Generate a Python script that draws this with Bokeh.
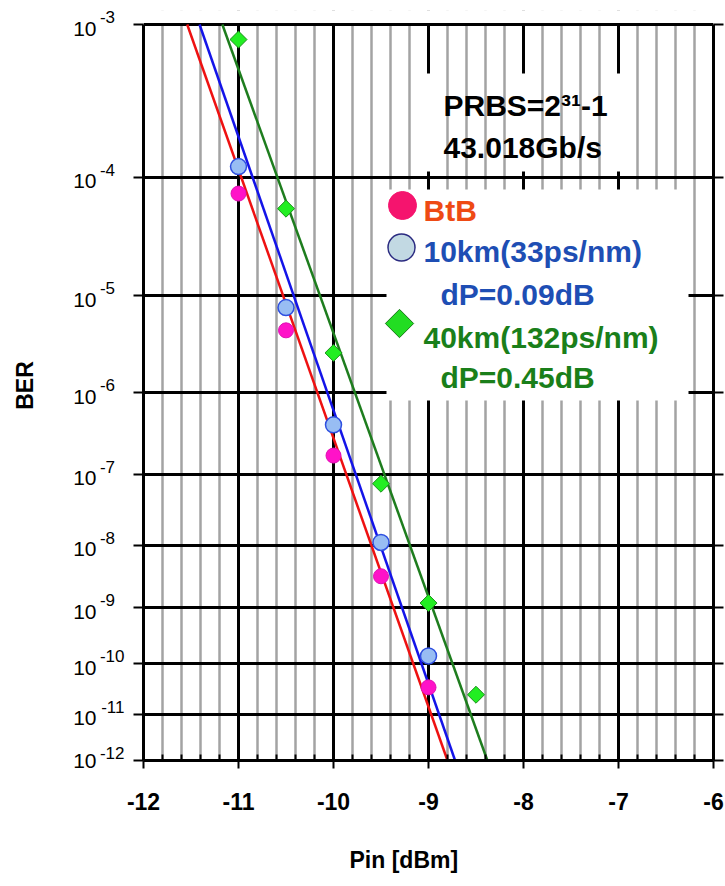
import numpy as np
from bokeh.plotting import figure
from bokeh.models import (Range1d, FixedTicker, LinearAxis, Grid, BoxAnnotation,
                          Label, CustomJSTickFormatter, Title)
from bokeh.embed import file_html
from bokeh.resources import INLINE

# ---------------- data ----------------
pin_btb = [-11.0, -10.5, -10.0, -9.5, -9.0]
ber_btb = [7.5e-5, 4.6e-6, 1.75e-7, 3.3e-9, 3.5e-11]

pin_10km = [-11.0, -10.5, -10.0, -9.5, -9.0]
ber_10km = [1.2e-4, 7.7e-6, 4.2e-7, 1.1e-8, 1.4e-10]

pin_40km = [-11.0, -10.5, -10.0, -9.5, -9.0, -8.5]
ber_40km = [8.2e-4, 5.7e-5, 2.7e-6, 7.5e-8, 1.2e-9, 2.5e-11]

# fitted straight lines (end points)
fit_btb_pin = [-11.54, -8.80]
fit_btb_ber = [1e-3, 1e-12]
fit_10km_pin = [-11.41, -8.72]
fit_10km_ber = [1e-3, 1e-12]
fit_40km_pin = [-11.17, -8.38]
fit_40km_ber = [1e-3, 1e-12]

pin_ticks = [-12, -11, -10, -9, -8, -7, -6]
pin_tick_labels = ["-12", "-11", "-10", "-9", "-8", "-7", "-6"]
ber_exponents = [-3, -4, -5, -6, -7, -8, -9, -10, -11, -12]

info_lines = ["PRBS=2\u00b3\u00b9-1", "43.018Gb/s"]
legend_lines = ["BtB", "10km(33ps/nm)", "dP=0.09dB", "40km(132ps/nm)", "dP=0.45dB"]

# ---------------- helpers ----------------
def q(ber):
    """BER (Q-type) scale: -log10(-log10(BER))"""
    return -np.log10(-np.log10(np.asarray(ber, dtype=float)))

Y_TOP = float(q(1e-3))
Y_BOT = float(q(1e-12))

# layout helpers: canvas pixel -> data coordinates (1e-3..1e-12 span 24..760)
FX0, FX1, FY0, FY1 = 143.0, 713.0, 24.0, 760.0
DPY = (Y_TOP - Y_BOT) / (FY1 - FY0)   # data units per pixel (y)
def sx(px):
    return -12 + (px - FX0) / (FX1 - FX0) * 6.0
def sy(py):
    return Y_TOP - (py - FY0) * DPY

TOP_PAD = 14          # extra frame pixels above 1e-3 (room for the top superscript)
FONT = "Liberation Sans"

def lookup_formatter(vals, labels):
    return CustomJSTickFormatter(
        args=dict(tv=list(vals), tl=list(labels)),
        code="""
        for (let i = 0; i < tv.length; i++) {
            if (Math.abs(tv[i] - tick) < 1e-7) { return tl[i]; }
        }
        return '';
        """)

p = figure(width=725, height=884, output_backend="svg", toolbar_location=None,
           title=None,
           x_range=Range1d(-12, -6), y_range=Range1d(Y_BOT, Y_TOP + TOP_PAD * DPY),
           x_axis_type=None, y_axis_type=None,
           min_border_left=143, min_border_right=12, min_border_top=int(FY0 - TOP_PAD),
           min_border_bottom=124)
p.outline_line_color = None
p.background_fill_color = "white"
p.border_fill_color = "white"

yticks = [float(q(10.0 ** e)) for e in ber_exponents]
minor_x = [float(np.round(-12 + 0.2 * k, 1)) for k in range(31) if k % 5 != 0]
blank = CustomJSTickFormatter(code="return ''")

# ---------------- x axis ----------------
xaxis = LinearAxis(ticker=FixedTicker(ticks=pin_ticks, minor_ticks=minor_x),
                   formatter=lookup_formatter(pin_ticks, pin_tick_labels))
xaxis.axis_line_width = 3
xaxis.axis_line_color = "black"
xaxis.major_tick_out = 8
xaxis.major_tick_in = 0
xaxis.major_tick_line_width = 2
xaxis.minor_tick_in = 6
xaxis.minor_tick_out = 0
xaxis.minor_tick_line_width = 2
xaxis.major_label_text_font = FONT
xaxis.major_label_text_font_style = "bold"
xaxis.major_label_text_font_size = "23px"
xaxis.major_label_text_color = "black"
xaxis.major_label_standoff = 24
p.add_layout(xaxis, "below")

# invisible spacer between tick labels and the x title
spacer = LinearAxis(ticker=FixedTicker(ticks=[-12]), formatter=blank,
                    axis_line_color=None, major_tick_line_color=None,
                    minor_tick_line_color=None, major_tick_out=29, major_tick_in=0,
                    major_label_standoff=0)
p.add_layout(spacer, "below")

p.add_layout(Title(text="Pin [dBm]", align="left", offset=206, standoff=6,
                   text_font=FONT, text_font_style="bold", text_font_size="23px",
                   text_color="black"), "below")

# ---------------- y axes ----------------
for side in ("left", "right"):
    ax = LinearAxis(ticker=FixedTicker(ticks=yticks), formatter=blank,
                    bounds=(Y_BOT, Y_TOP))
    ax.axis_line_width = 3
    ax.axis_line_color = "black"
    ax.major_tick_out = 10
    ax.major_tick_in = 0
    ax.major_tick_line_width = 2
    ax.minor_tick_line_color = None
    ax.major_label_standoff = 0
    p.add_layout(ax, side)

# superscript part of the 10^n labels (raised), padded so they start together
exp_txt = [str(e) for e in ber_exponents]
maxlen = max(len(t) for t in exp_txt)
exp_pad = [t + "\u00a0" * (2 * (maxlen - len(t))) for t in exp_txt]
sup_ticks = [y + 7 * DPY for y in yticks]
sup_axis = LinearAxis(ticker=FixedTicker(ticks=sup_ticks),
                      formatter=lookup_formatter(sup_ticks, exp_pad),
                      axis_line_color=None, major_tick_line_color=None,
                      minor_tick_line_color=None, major_tick_out=0, major_tick_in=0,
                      major_label_standoff=9,
                      major_label_text_font=FONT, major_label_text_font_size="17px",
                      major_label_text_color="black")
p.add_layout(sup_axis, "left")

# base "10" part of the labels (slightly lowered, kept inside the range) + title
base_ticks = [max(y - 4 * DPY, Y_BOT) for y in yticks]
base_axis = LinearAxis(ticker=FixedTicker(ticks=base_ticks),
                       formatter=lookup_formatter(base_ticks, ["10"] * len(base_ticks)),
                       axis_line_color=None, major_tick_line_color=None,
                       minor_tick_line_color=None, major_tick_out=0, major_tick_in=0,
                       major_label_standoff=0,
                       major_label_text_font=FONT, major_label_text_font_size="21px",
                       major_label_text_color="black",
                       axis_label="BER", axis_label_standoff=32,
                       axis_label_text_font=FONT, axis_label_text_font_style="bold",
                       axis_label_text_font_size="23px", axis_label_text_color="black")
p.add_layout(base_axis, "left")

# ---------------- grids & boxes (z-order) ----------------
xg_major = Grid(dimension=0, ticker=FixedTicker(ticks=pin_ticks),
                grid_line_color="black", grid_line_width=3, level="image")
p.add_layout(xg_major, "center")

prbs_box = BoxAnnotation(left=sx(424), right=sx(641), top=sy(73), bottom=sy(171),
                         fill_color="white", fill_alpha=1.0, line_color=None,
                         level="image")
p.add_layout(prbs_box, "center")

xg_minor = Grid(dimension=0, ticker=FixedTicker(ticks=minor_x),
                grid_line_color="#A3A3A3", grid_line_width=2.5, level="underlay")
p.add_layout(xg_minor, "center")

yg_major = Grid(dimension=1, ticker=FixedTicker(ticks=yticks),
                grid_line_color="black", grid_line_width=3, level="underlay")
p.add_layout(yg_major, "center")

# blank strip above 1e-3 (room kept only for the top label)
top_box = BoxAnnotation(left=sx(130), right=sx(730), top=sy(0), bottom=sy(22.4),
                        fill_color="white", fill_alpha=1.0, line_color=None,
                        level="guide")
p.add_layout(top_box, "center")

legend_box = BoxAnnotation(left=sx(386), right=sx(688), top=sy(189), bottom=sy(400),
                           fill_color="white", fill_alpha=1.0, line_color=None,
                           level="guide")
p.add_layout(legend_box, "center")

# ---------------- data ----------------
p.line(fit_btb_pin, q(fit_btb_ber), line_color="#EE1111", line_width=2.5)
p.line(fit_10km_pin, q(fit_10km_ber), line_color="#1414E8", line_width=2.5)
p.line(fit_40km_pin, q(fit_40km_ber), line_color="#1E7D1E", line_width=2.5)

p.scatter(pin_btb, q(ber_btb), marker="circle", size=15,
          fill_color="#FF12C8", line_color="#E010B4", line_width=1)
p.scatter(pin_10km, q(ber_10km), marker="circle", size=16,
          fill_color="#98BDF3", line_color="#2E4FE0", line_width=1.5)
p.scatter(pin_40km, q(ber_40km), marker="square", angle=np.pi / 4, size=12,
          fill_color="#22EE22", line_color="#1A8F1A", line_width=1)

# ---------------- info box text ----------------
for txt, ypx in zip(info_lines, [105, 147]):
    p.add_layout(Label(x=sx(443), y=sy(ypx), text=txt, text_align="left",
                       text_baseline="middle", text_font=FONT, text_font_style="bold",
                       text_font_size="30px", text_color="black"))

# ---------------- legend ----------------
p.scatter([sx(402)], [sy(205)], marker="circle", size=28, fill_color="#F5146E",
          line_color="#F5146E", level="overlay")
p.scatter([sx(401)], [sy(247)], marker="circle", size=27, fill_color="#C2D9E3",
          line_color="#2A2A80", line_width=1.5, level="overlay")
p.scatter([sx(399)], [sy(323)], marker="square", angle=np.pi / 4, size=20,
          fill_color="#22DD22", line_color="#1A7A1A", line_width=1, level="overlay")

leg_colors = ["#EE4A14", "#1E4EB4", "#1E4EB4", "#1A7F1A", "#1A7F1A"]
leg_x = [423, 423, 440, 423, 440]
leg_y = [210, 251, 294, 337, 377]
for txt, c, xp, yp in zip(legend_lines, leg_colors, leg_x, leg_y):
    p.add_layout(Label(x=sx(xp), y=sy(yp), text=txt, text_align="left",
                       text_baseline="middle", text_font=FONT, text_font_style="bold",
                       text_font_size="30px", text_color=c, level="overlay"))

open("out.html", "w").write(file_html(p, INLINE))
